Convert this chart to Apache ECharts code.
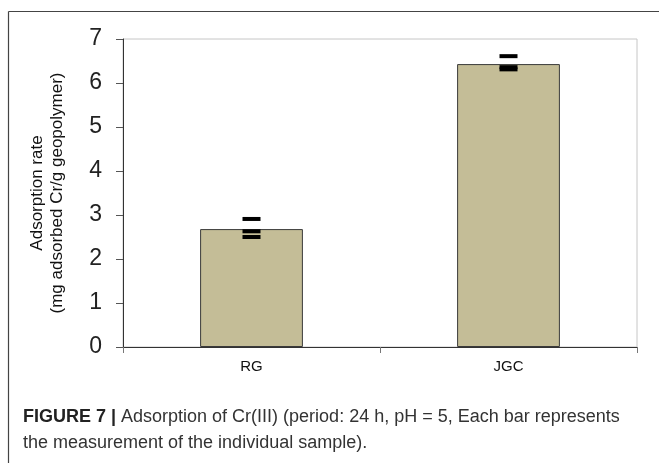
<!DOCTYPE html>
<html>
<head>
<meta charset="utf-8">
<script src="https://cdn.jsdelivr.net/npm/echarts@6/dist/echarts.min.js"></script>
<style>
  html, body { margin: 0; padding: 0; background: #fff; }
  #chart { width: 659px; height: 463px; }
</style>
</head>
<body>
<div id="chart"></div>
<script>
// Adsorption of Cr(III): mean per material plus individual sample measurements
const categories = ['RG', 'JGC'];
const meanValues = [2.68, 6.43];
const rgSamples = [2.91, 2.63, 2.50];
const jgcSamples = [6.61, 6.36, 6.31];
const yTicks = [0, 1, 2, 3, 4, 5, 6, 7];

const samplePoints = [];
rgSamples.forEach(v => samplePoints.push([categories[0], v]));
jgcSamples.forEach(v => samplePoints.push([categories[1], v]));

const chart = echarts.init(document.getElementById('chart'), null, { renderer: 'canvas' });

const font = '"Liberation Sans", Arial, sans-serif';

chart.setOption({
  animation: false,
  backgroundColor: '#ffffff',
  grid: {
    left: 123, top: 39, right: 22, bottom: 116,
    show: true, borderColor: '#c6c6c6', borderWidth: 1
  },
  xAxis: {
    type: 'category',
    data: categories,
    boundaryGap: true,
    axisLine: { lineStyle: { color: '#333', width: 1 } },
    axisTick: { show: true, length: 6, alignWithLabel: false, lineStyle: { color: '#777' } },
    axisLabel: { color: '#111', fontFamily: font, fontSize: 15, margin: 12 },
    splitLine: { show: false }
  },
  yAxis: {
    type: 'value',
    min: yTicks[0],
    max: yTicks[yTicks.length - 1],
    interval: 1,
    name: 'Adsorption rate\n(mg adsorbed Cr/g geopolymer)',
    nameLocation: 'middle',
    nameRotate: 90,
    nameGap: 56,
    nameTextStyle: { color: '#111', fontFamily: font, fontSize: 17, lineHeight: 20, align: 'center' },
    axisLine: { show: true, lineStyle: { color: '#333', width: 1 } },
    axisTick: { show: true, inside: false, length: 7, lineStyle: { color: '#555' } },
    axisLabel: { color: '#222', fontFamily: font, fontSize: 23, margin: 21 },
    splitLine: { show: false }
  },
  series: [
    {
      type: 'bar',
      data: meanValues,
      barWidth: '40%',
      itemStyle: { color: '#c4bd97', borderColor: '#3a3a3a', borderWidth: 1 },
      z: 2
    },
    {
      type: 'scatter',
      data: samplePoints,
      symbol: 'rect',
      symbolSize: [18, 4],
      itemStyle: { color: '#000', opacity: 1 },
      z: 5
    }
  ],
  graphic: [
    { type: 'line', shape: { x1: 8.5, y1: 11.5, x2: 659, y2: 11.5 }, style: { stroke: '#444', lineWidth: 1.2 } },
    { type: 'line', shape: { x1: 8.5, y1: 11.5, x2: 8.5, y2: 463 }, style: { stroke: '#444', lineWidth: 1.2 } },
    {
      type: 'text',
      left: 23, top: 404,
      style: {
        text: '{b|FIGURE 7 |} Adsorption of Cr(III) (period: 24 h, pH = 5, Each bar represents\nthe measurement of the individual sample).',
        fontFamily: font,
        fontSize: 18,
        lineHeight: 26,
        fill: '#333',
        rich: {
          b: { fontFamily: font, fontSize: 18, fontWeight: 'bold', fill: '#222', lineHeight: 26 }
        }
      }
    }
  ]
});
</script>
</body>
</html>
